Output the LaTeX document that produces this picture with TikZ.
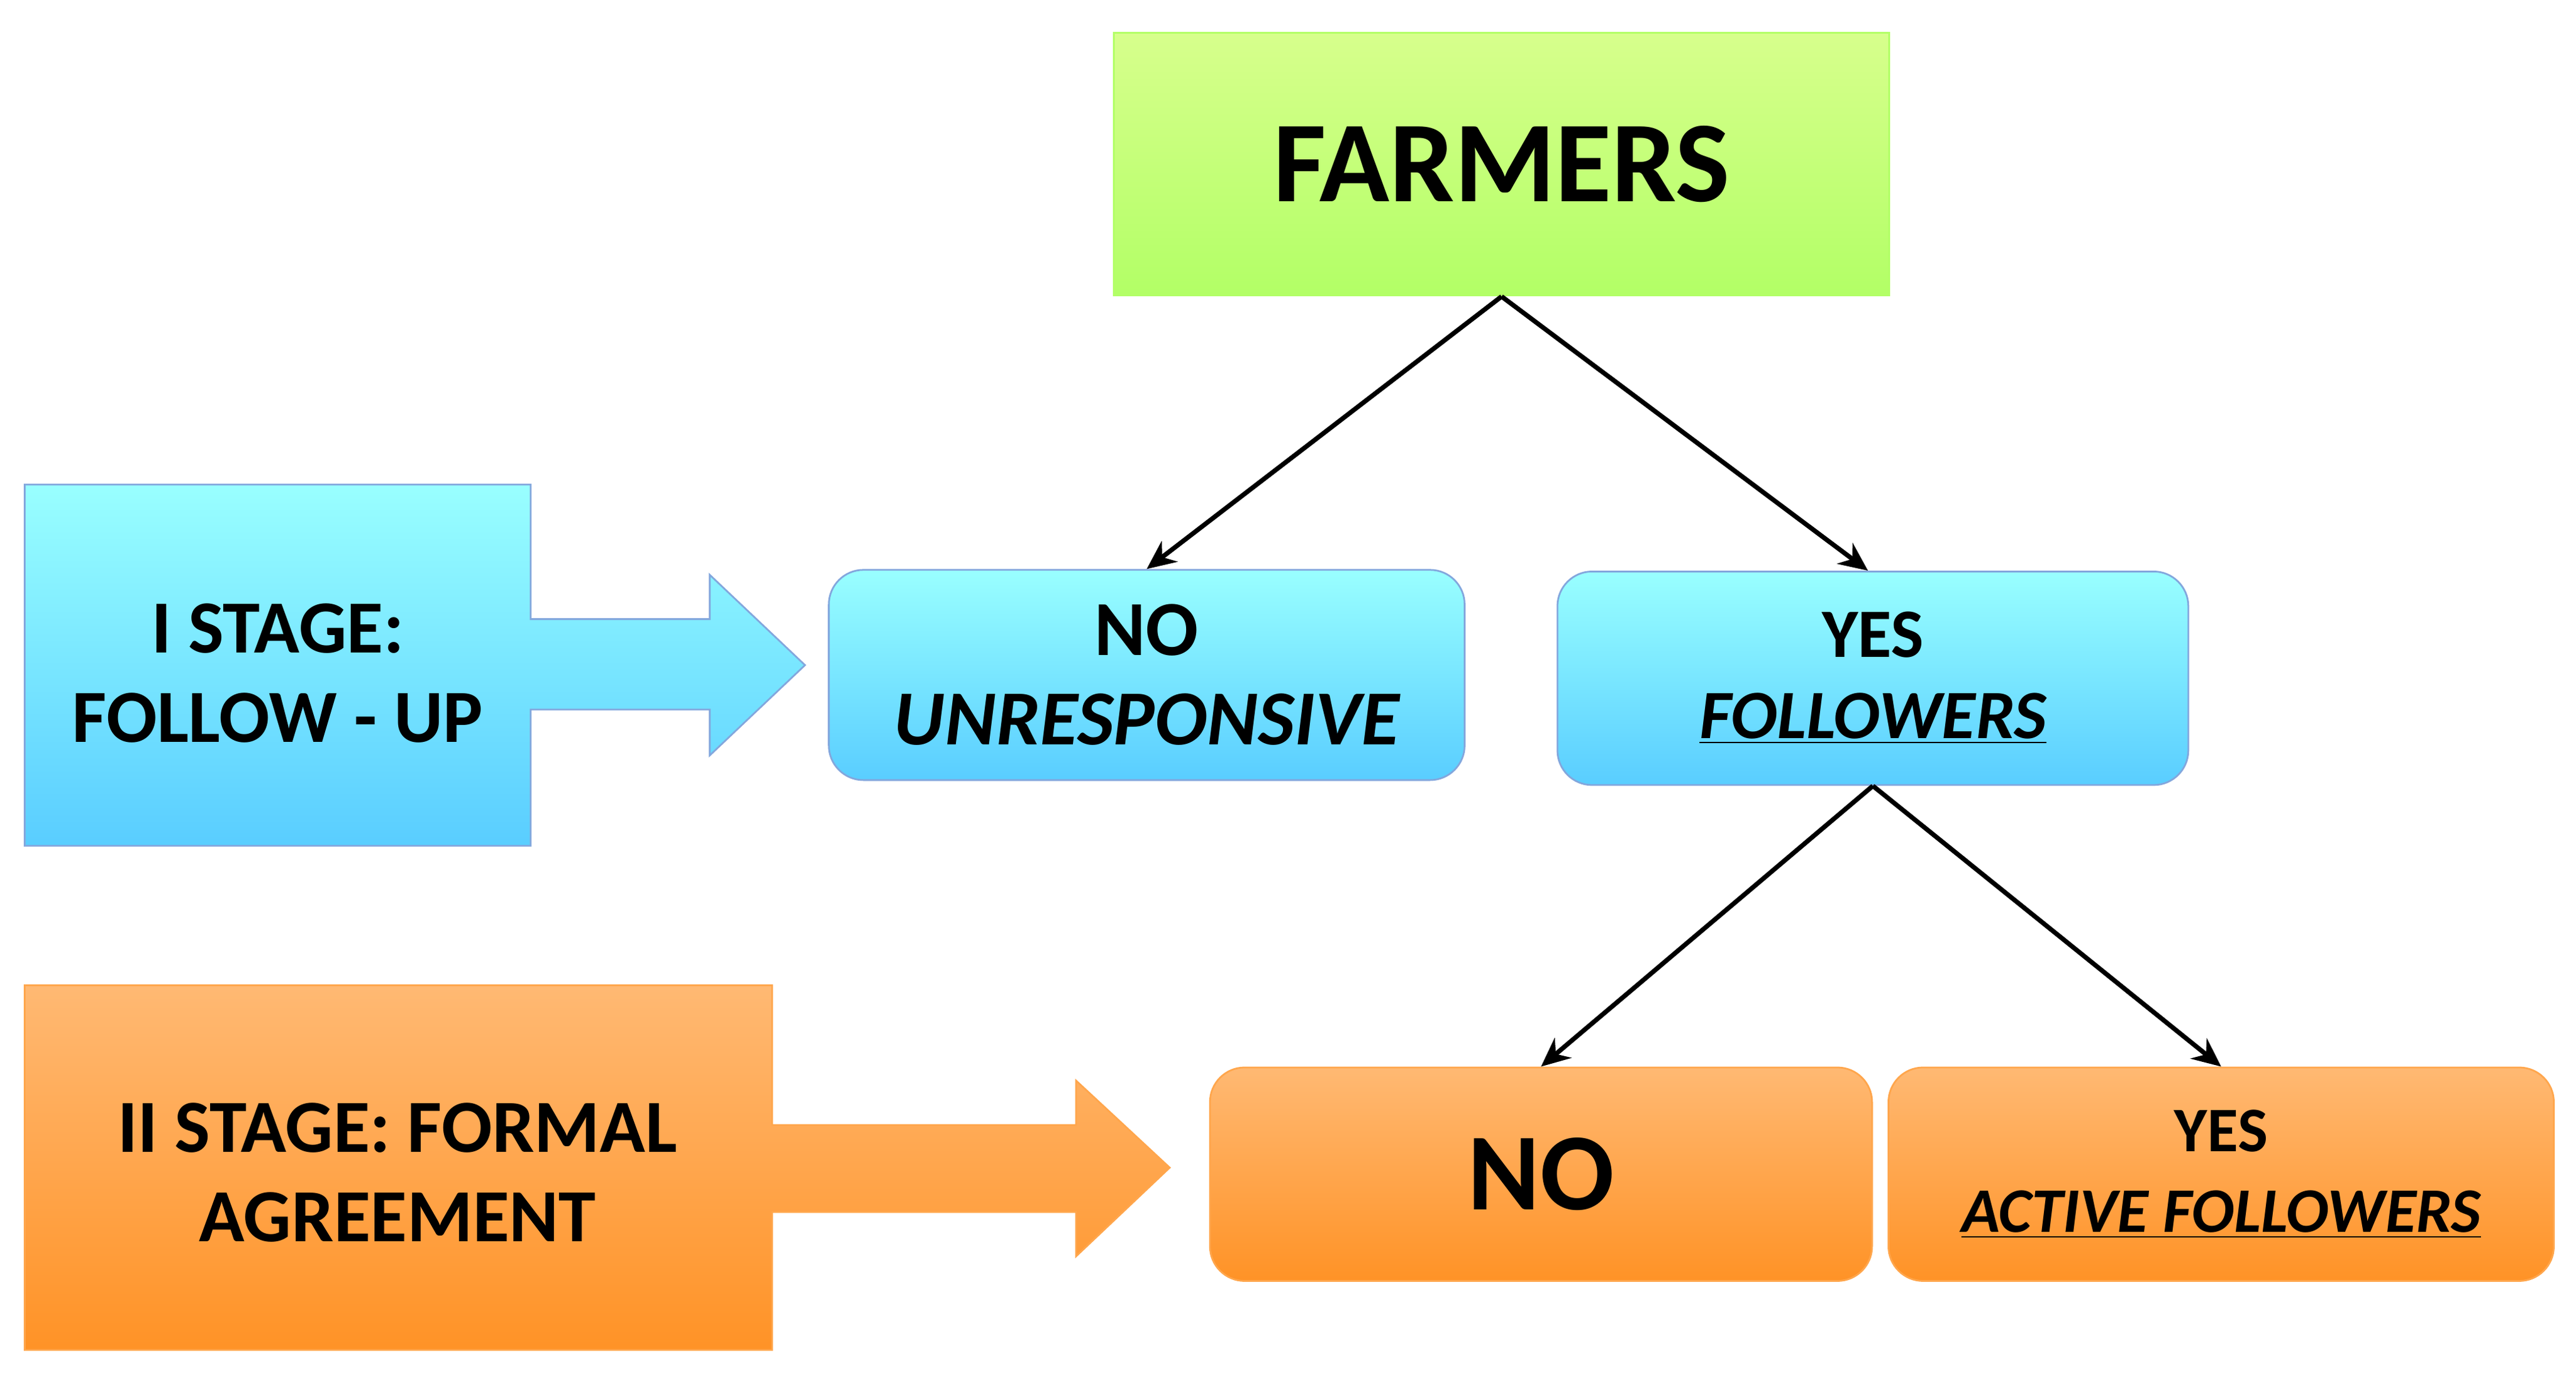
\documentclass[tikz,border=0pt]{standalone}
\usepackage{fontspec}
\setmainfont{Carlito}
\usetikzlibrary{arrows.meta}
\begin{document}
\begin{tikzpicture}[x=0.02cm,y=-0.02cm,
  cyanfill/.style={top color=cyan!40!white,bottom color=cyan!70!blue!65!white,draw=cyan!50!blue!50!white,line width=0.6pt},
  orfill/.style={top color=orange!55!white,bottom color=orange!85!white,draw=orange!70!white,line width=0.6pt},
  grfill/.style={top color=green!35!yellow!45!white,bottom color=green!50!yellow!60!white,draw=green!50!yellow!60!white,line width=0.6pt},
  rbox/.style={rounded corners=12pt},
  txt/.style={font=\bfseries,align=center,text=black},
  conn/.style={-{Stealth[length=10pt,width=9pt]},line width=1.6pt}]
\useasboundingbox (0,0) rectangle (1568,840);
\node[grfill,minimum width=472*0.02cm,minimum height=160*0.02cm,inner sep=0,font=\bfseries\fontsize{40}{44}\selectfont] (farm) at (914,100) {FARMERS};
\path[cyanfill] (15,295)--(323,295)--(323,377)--(432,377)--(432,350)--(490,405)--(432,460)--(432,432)--(323,432)--(323,515)--(15,515)--cycle;
\node[txt,font=\bfseries\fontsize{26}{31}\selectfont] (s1) at (169,410) {I STAGE:\\FOLLOW - UP};
\path[orfill] (15,600)--(470,600)--(470,685)--(655,685)--(655,658)--(712,711)--(655,765)--(655,738)--(470,738)--(470,822)--(15,822)--cycle;
\node[txt,font=\bfseries\fontsize{26}{31}\selectfont] (s2) at (242,714) {II STAGE: FORMAL\\AGREEMENT};
\node[cyanfill,rbox,minimum width=387*0.02cm,minimum height=128*0.02cm,inner sep=0,txt,font=\bfseries\fontsize{27}{31}\selectfont] (no1) at (698,411) {NO\\\itshape UNRESPONSIVE};
\node[cyanfill,rbox,minimum width=384*0.02cm,minimum height=130*0.02cm,inner sep=0,txt,font=\bfseries\fontsize{24}{28}\selectfont] (yes1) at (1140,413) {YES\\\itshape\underline{FOLLOWERS}};
\node[orfill,rbox,minimum width=403*0.02cm,minimum height=130*0.02cm,inner sep=0,txt,font=\bfseries\fontsize{38}{42}\selectfont] (no2) at (938,715) {NO};
\node[orfill,rbox,minimum width=405*0.02cm,minimum height=130*0.02cm,inner sep=0,txt,font=\bfseries\fontsize{22}{28}\selectfont] (yes2) at (1352,715) {YES\\\itshape\underline{ACTIVE FOLLOWERS}};
\draw[conn] (farm.south) -- (no1.north);
\draw[conn] (farm.south) -- ([xshift=-3*0.02cm]yes1.north);
\draw[conn] (yes1.south) -- (no2.north);
\draw[conn] (yes1.south) -- (yes2.north);
\end{tikzpicture}
\end{document}
